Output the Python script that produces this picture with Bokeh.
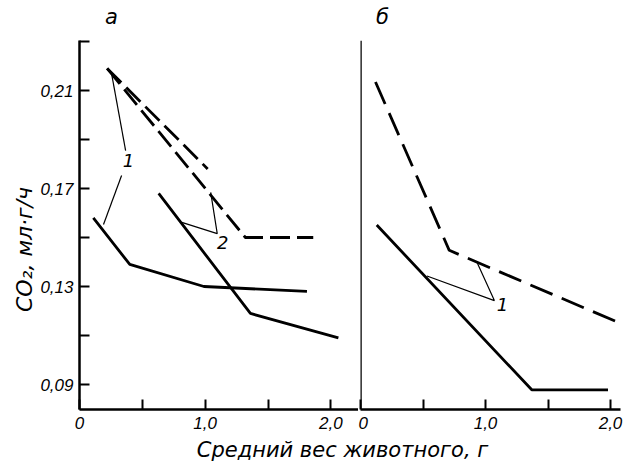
from bokeh.plotting import figure
from bokeh.layouts import row, column
from bokeh.models import Range1d, FixedTicker, Span
from bokeh.core.properties import value
from bokeh.embed import file_html
from bokeh.resources import INLINE

# ---------------- data ----------------
# panel "а"
a_dash1_x = [0.22, 1.02]
a_dash1_y = [0.219, 0.178]
a_dash2_x = [0.22, 1.32, 1.86]
a_dash2_y = [0.219, 0.150, 0.150]
a_solid1_x = [0.11, 0.40, 0.99, 1.81]
a_solid1_y = [0.158, 0.139, 0.130, 0.128]
a_solid2_x = [0.63, 1.36, 2.06]
a_solid2_y = [0.168, 0.119, 0.109]
# panel "б"
b_dash_x = [0.12, 0.71, 2.04]
b_dash_y = [0.216, 0.146, 0.1165]
b_solid_x = [0.13, 1.37, 1.98]
b_solid_y = [0.1565, 0.088, 0.088]

# leader lines and curve numbers
a_lead1a_x = [0.253, 0.367]
a_lead1a_y = [0.2175, 0.1855]
a_lead1b_x = [0.335, 0.191]
a_lead1b_y = [0.1753, 0.1553]
a_num1 = (0.39, 0.1814, "1")
a_lead2_x = [0.814, 1.096, 1.044]
a_lead2_y = [0.1562, 0.1516, 0.1684]
a_num2 = (1.14, 0.148, "2")
b_lead1_x = [0.532, 1.071, 0.929]
b_lead1_y = [0.1353, 0.1251, 0.1414]
b_num1 = (1.135, 0.1235, "1")

x_major = [0, 1, 2]
x_minor = [0.5, 1.5]
x_labels = {0: "0", 1: "1,0", 2: "2,0"}
y_major = [0.09, 0.13, 0.17, 0.21]
y_minor = [0.11, 0.15, 0.19, 0.23]
y_labels = {0.09: "0,09", 0.13: "0,13", 0.17: "0,17", 0.21: "0,21"}

panel_names = ["а", "б"]
y_title = "CO₂, мл·г/ч"
x_title = "Средний вес животного, г"

FONT = "DejaVu Sans"
TICKFONT = "Liberation Sans"
LW = 2.8


def style_axis(ax):
    ax.axis_line_width = 2.5
    ax.major_tick_in = 10
    ax.major_tick_out = 0
    ax.minor_tick_in = 10
    ax.minor_tick_out = 0
    ax.major_tick_line_width = 2
    ax.minor_tick_line_width = 2
    ax.major_label_text_font = TICKFONT
    ax.major_label_text_font_style = "italic"
    ax.major_label_text_font_size = "17px"
    ax.major_label_text_color = "black"
    ax.axis_line_color = "black"
    ax.major_tick_line_color = "black"
    ax.minor_tick_line_color = "black"


def base(p):
    p.grid.visible = False
    p.outline_line_color = None


def blank(w, h):
    p = figure(width=w, height=h, x_range=Range1d(0, w), y_range=Range1d(h, 0),
               output_backend="svg", toolbar_location=None, min_border=0)
    p.axis.visible = False
    p.grid.visible = False
    p.outline_line_color = None
    return p


# ---------------- top strip with panel letters ----------------
pt = blank(628, 30)
pt.text([111, 382], [16, 16], text=panel_names, text_font=value(FONT),
        text_font_style="italic", text_font_size="21px",
        text_align="center", text_baseline="middle", text_color="black")

# ---------------- y title strip ----------------
p0 = blank(36, 406)
p0.text([24], [230], text=[y_title], angle=90, angle_units="deg",
        text_font=value(FONT), text_font_style="italic", text_font_size="22px",
        text_align="center", text_baseline="middle", text_color="black")

# ---------------- panel а ----------------
p1 = figure(width=322, height=406, x_range=Range1d(0, 2.22),
            y_range=Range1d(0.0798, 0.0798 + 369 / 2450),
            output_backend="svg", toolbar_location=None,
            min_border_left=43, min_border_right=0,
            min_border_top=10, min_border_bottom=27)
base(p1)
style_axis(p1.xaxis[0])
style_axis(p1.yaxis[0])
p1.xaxis.ticker = FixedTicker(ticks=x_major, minor_ticks=x_minor)
p1.xaxis.major_label_overrides = x_labels
p1.xaxis.major_label_standoff = 7
p1.yaxis.ticker = FixedTicker(ticks=y_major, minor_ticks=y_minor)
p1.yaxis.major_label_overrides = y_labels
p1.yaxis.major_label_standoff = 6

p1.line(a_dash1_x, a_dash1_y, line_width=LW, color="black", line_dash="20 7")
p1.line(a_dash2_x, a_dash2_y, line_width=LW, color="black", line_dash="20 7")
p1.line(a_solid1_x, a_solid1_y, line_width=LW, color="black")
p1.line(a_solid2_x, a_solid2_y, line_width=LW, color="black")
p1.line(a_lead1a_x, a_lead1a_y, line_width=1.2, color="black")
p1.line(a_lead1b_x, a_lead1b_y, line_width=1.2, color="black")
p1.line(a_lead2_x, a_lead2_y, line_width=1.2, color="black")
for (tx, ty, tt) in (a_num1, a_num2):
    p1.text([tx], [ty], text=[tt], text_font=value(FONT), text_font_style="italic",
            text_font_size="18px", text_align="center", text_baseline="middle",
            text_color="black")

# ---------------- panel б ----------------
p2 = figure(width=270, height=406, x_range=Range1d(0, 2.08),
            y_range=Range1d(0.0798, 0.0798 + 376 / 2450),
            output_backend="svg", toolbar_location=None,
            min_border_left=2, min_border_right=8,
            min_border_top=3, min_border_bottom=27)
base(p2)
style_axis(p2.xaxis[0])
p2.xaxis.ticker = FixedTicker(ticks=x_major, minor_ticks=x_minor)
p2.xaxis.major_label_overrides = x_labels
p2.xaxis.major_label_standoff = 7
p2.yaxis.visible = False
p2.add_layout(Span(location=0, dimension="height", line_width=2.5, line_color="black"))

p2.line(b_dash_x, b_dash_y, line_width=LW, color="black", line_dash="24 10")
p2.line(b_solid_x, b_solid_y, line_width=LW, color="black")
p2.line(b_lead1_x, b_lead1_y, line_width=1.2, color="black")
p2.text([b_num1[0]], [b_num1[1]], text=[b_num1[2]], text_font=value(FONT),
        text_font_style="italic", text_font_size="18px",
        text_align="center", text_baseline="middle", text_color="black")

# ---------------- common x title ----------------
p3 = blank(628, 29)
p3.text([342], [13], text=[x_title], text_font=value(FONT), text_font_style="italic",
        text_font_size="21px", text_align="center", text_baseline="middle",
        text_color="black")

layout = column(pt, row(p0, p1, p2, spacing=0), p3, spacing=0)
open("out.html", "w").write(file_html(layout, INLINE))
